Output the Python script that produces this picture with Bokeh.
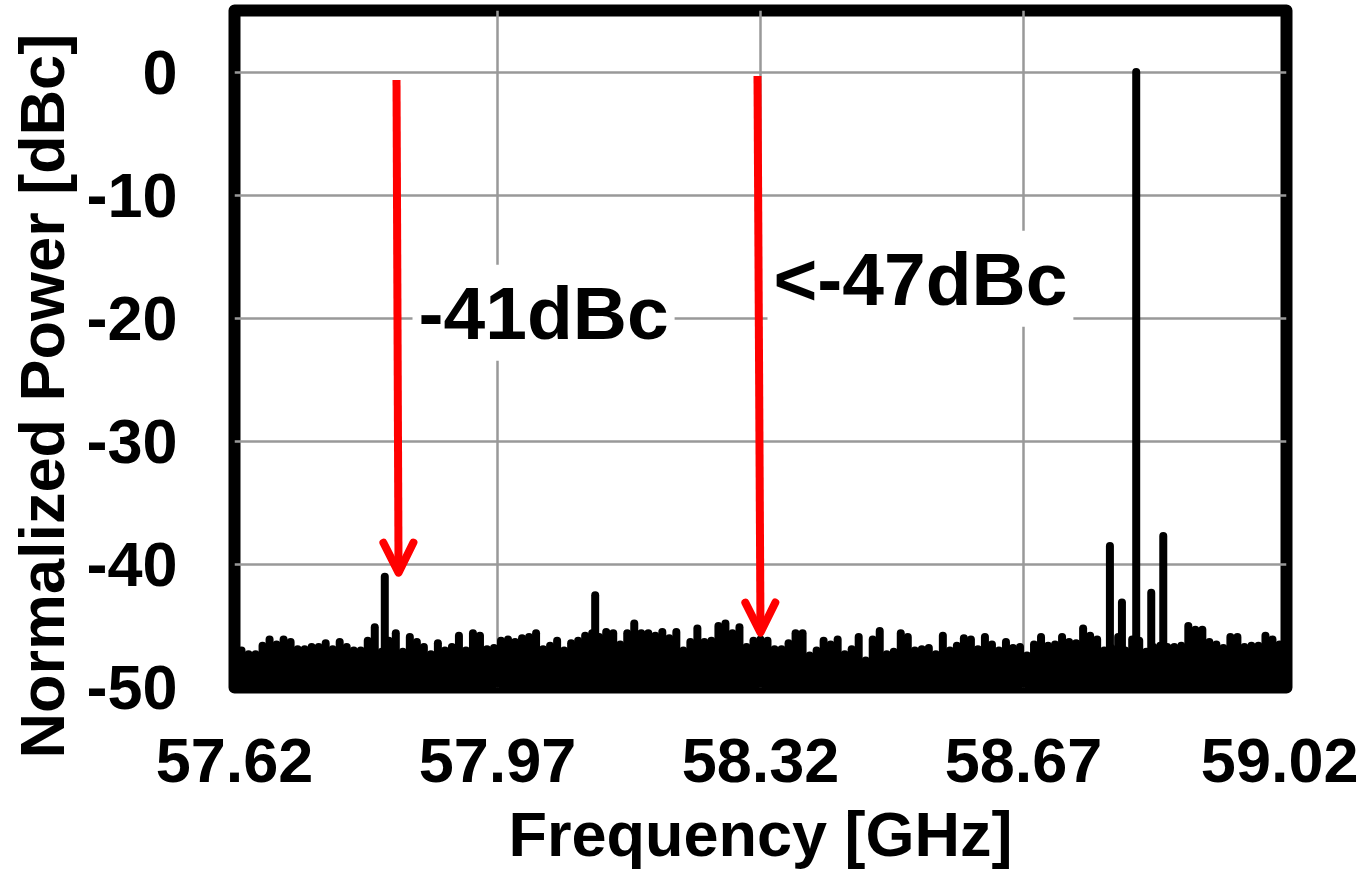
import numpy as np
from bokeh.plotting import figure
from bokeh.models import FixedTicker, Label, Arrow, OpenHead, Range1d, Title
from bokeh.embed import file_html
from bokeh.resources import INLINE

# ---------------- data ----------------
F_START, F_STOP = 57.62, 59.02
Y_MIN, Y_MAX = -50.0, 5.0

# noise-floor trace, uniformly swept from 57.62 to 59.02 GHz (dBc)
floor_db = [
    -47.0, -47.0, -47.3, -47.3, -46.6, -46.1, -46.5, -46.1, -46.3, -46.9,
    -46.9, -46.7, -46.7, -46.4, -46.9, -46.3, -46.7, -47.0, -47.0, -46.2,
    -45.1, -47.1, -46.2, -45.6, -47.1, -45.9, -46.3, -46.7, -47.3, -46.4,
    -47.0, -46.7, -45.8, -47.0, -45.6, -45.8, -46.9, -46.8, -46.2, -46.1,
    -46.3, -46.0, -45.9, -45.6, -46.9, -46.6, -46.2, -47.0, -46.4, -46.2,
    -45.8, -45.6, -45.9, -45.5, -45.6, -46.5, -45.6, -44.8, -45.6, -45.6,
    -45.8, -45.5, -46.0, -45.5, -47.0, -46.3, -45.2, -46.3, -46.2, -45.0,
    -44.8, -45.6, -45.1, -46.7, -46.2, -46.1, -46.2, -46.9, -46.9, -46.4,
    -45.6, -45.6, -47.4, -47.0, -46.2, -46.5, -46.1, -47.3, -46.9, -45.9,
    -47.8, -46.1, -45.4, -47.3, -47.1, -45.6, -45.9, -47.0, -46.9, -46.8,
    -47.3, -45.8, -47.0, -46.6, -46.0, -46.1, -46.9, -45.9, -46.5, -47.0,
    -46.3, -46.8, -46.7, -47.4, -46.5, -45.9, -46.6, -46.5, -45.9, -46.3,
    -46.4, -45.2, -45.8, -46.1, -47.0, -46.8, -45.9, -47.0, -46.1, -46.2,
    -47.1, -46.7, -46.6, -46.7, -46.7, -46.6, -45.0, -45.3, -45.3, -46.3,
    -46.5, -46.8, -45.9, -45.9, -46.7, -46.6, -46.6, -45.8, -46.1, -46.5,
    -46.8,
]
floor_freq = np.linspace(F_START, F_STOP, len(floor_db))

# carrier and spurious tones
tone_freq = [57.820, 58.100, 58.785, 58.801, 58.820, 58.840, 58.856]
tone_db = [-41.0, -42.5, -38.5, -43.1, 0.0, -42.3, -37.7]

x_ticks = [57.62, 57.97, 58.32, 58.67, 59.02]
x_tick_labels = ["57.62", "57.97", "58.32", "58.67", "59.02"]
y_ticks = [0, -10, -20, -30, -40, -50]
y_tick_labels = ["0", "-10", "-20", "-30", "-40", "-50"]

x_title = "Frequency [GHz]"
y_title = "Normalized Power [dBc]"
note_spur = "-41dBc"
note_floor = "<-47dBc"

FONT = "Liberation Sans"

# ---------------- figure ----------------
p = figure(frame_width=1052, frame_height=677, output_backend="svg",
           toolbar_location=None,
           x_range=Range1d(F_START, F_STOP), y_range=Range1d(Y_MIN, Y_MAX),
           min_border_left=234, min_border_right=72,
           min_border_top=10, min_border_bottom=181)

p.outline_line_color = "black"
p.outline_line_width = 12
p.outline_line_join = "round"
p.background_fill_color = "white"
p.border_fill_color = "white"

for ax in (p.xaxis, p.yaxis):
    ax.axis_line_color = None
    ax.major_tick_out = 0
    ax.major_tick_in = 0
    ax.minor_tick_out = 0
    ax.minor_tick_in = 0
    ax.major_label_text_font = FONT
    ax.major_label_text_font_style = "bold"
    ax.major_label_text_font_size = "63px"
    ax.major_label_text_color = "black"

p.xaxis.ticker = FixedTicker(ticks=x_ticks)
p.xaxis.major_label_overrides = {t: s for t, s in zip(x_ticks, x_tick_labels)}
p.xaxis.major_label_standoff = 51
p.xaxis.axis_label = x_title
p.xaxis.axis_label_text_font = FONT
p.xaxis.axis_label_text_font_style = "bold"
p.xaxis.axis_label_text_font_size = "63px"
p.xaxis.axis_label_text_color = "black"
p.xaxis.axis_label_standoff = 14

p.yaxis.ticker = FixedTicker(ticks=y_ticks)
p.yaxis.major_label_overrides = {t: s for t, s in zip(y_ticks, y_tick_labels)}
p.yaxis.major_label_standoff = 57

# y title as a side title, started below the frame bottom as in the reference
p.add_layout(Title(text=y_title, align="left", vertical_align="top",
                   offset=-71, standoff=9,
                   text_font=FONT, text_font_style="bold",
                   text_font_size="63px", text_color="black"), "left")

p.xgrid.ticker = FixedTicker(ticks=x_ticks)
p.ygrid.ticker = FixedTicker(ticks=y_ticks)
for g in (p.xgrid, p.ygrid):
    g.grid_line_color = "#999999"
    g.grid_line_width = 2.5

# spectrum trace
p.segment(x0=floor_freq, y0=Y_MIN, x1=floor_freq, y1=floor_db,
          line_color="black", line_width=8, line_cap="round")
p.segment(x0=tone_freq, y0=Y_MIN, x1=tone_freq, y1=tone_db,
          line_color="black", line_width=8, line_cap="round")

# red arrows
for xs, ys, xe, ye in [(57.8356, -0.65, 57.8383, -40.67),
                       (58.316, -0.32, 58.320, -45.54)]:
    p.add_layout(Arrow(x_start=xs, y_start=ys, x_end=xe, y_end=ye,
                       line_color="red", line_width=8,
                       end=OpenHead(size=30, line_color="red", line_width=8,
                                    line_cap="round", line_join="round")))

# annotations with white background
for txt, x, y in [(note_spur, 57.8569, -19.56), (note_floor, 58.3293, -16.80)]:
    p.add_layout(Label(x=x, y=y, text=txt, text_font=FONT, text_font_style="bold",
                       text_font_size="75px", text_color="black",
                       text_align="left", text_baseline="alphabetic",
                       background_fill_color="white", padding=6))

open("out.html", "w").write(file_html(p, INLINE))
